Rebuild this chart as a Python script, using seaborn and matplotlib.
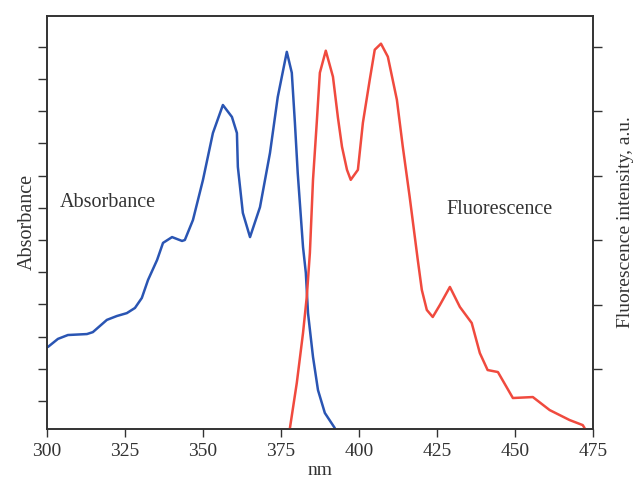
import numpy as np
import pandas as pd
import matplotlib.pyplot as plt
import seaborn as sns

# absorbance spectrum (left axis, arbitrary units)
abs_nm = [300.3, 303.5, 306.7, 312.8, 314.7, 319.2, 322.4, 325.6, 328.2, 330.4,
          332.4, 335.3, 337.2, 340.1, 343.3, 344.2, 346.8, 350.0, 353.2, 356.4,
          359.3, 360.9, 361.2, 362.8, 365.1, 368.3, 371.5, 374.0, 376.9, 378.5,
          379.5, 380.4, 382.1, 383.0, 383.7, 385.3, 386.9, 389.1, 392.3]
abs_val = [0.168, 0.193, 0.205, 0.208, 0.214, 0.252, 0.264, 0.273, 0.289, 0.320,
           0.376, 0.438, 0.491, 0.509, 0.497, 0.500, 0.562, 0.686, 0.832, 0.919,
           0.882, 0.832, 0.727, 0.584, 0.509, 0.602, 0.770, 0.944, 1.084, 1.019,
           0.863, 0.708, 0.478, 0.398, 0.273, 0.137, 0.034, -0.037, -0.084]

# fluorescence spectrum (right axis, a.u.)
fl_nm = [377.9, 380.1, 382.1, 383.3, 384.3, 385.3, 386.5, 387.5, 389.4, 391.7,
         393.3, 394.6, 396.2, 397.4, 399.7, 401.3, 403.5, 405.1, 407.1, 409.3,
         412.2, 414.1, 416.3, 418.9, 420.2, 421.8, 423.7, 426.0, 429.2, 432.4,
         436.2, 438.8, 441.3, 444.6, 449.4, 455.8, 461.2, 467.6, 471.8, 472.4]
fl_val = [0.084, 0.783, 1.559, 2.118, 2.801, 3.935, 4.820, 5.596, 5.938, 5.534,
          4.898, 4.447, 4.090, 3.935, 4.090, 4.820, 5.488, 5.953, 6.047, 5.845,
          5.177, 4.447, 3.671, 2.693, 2.227, 1.916, 1.807, 1.994, 2.273, 1.963,
          1.714, 1.248, 0.984, 0.953, 0.550, 0.565, 0.363, 0.208, 0.130, 0.084]

x_ticks = [300, 325, 350, 375, 400, 425, 450, 475]
abs_ticks = np.arange(0, 1.15, 0.1)
fl_ticks = [1, 2, 3, 4, 5, 6]

sns.set_style("ticks")
plt.rcParams['font.family'] = ['Liberation Serif', 'DejaVu Serif']
plt.rcParams['text.color'] = '#333333'
plt.rcParams['axes.labelcolor'] = '#333333'
plt.rcParams['xtick.color'] = '#333333'
plt.rcParams['ytick.color'] = '#333333'

df_abs = pd.DataFrame({'nm': abs_nm, 'val': abs_val})
df_fl = pd.DataFrame({'nm': fl_nm, 'val': fl_val})

fig = plt.figure(figsize=(6.38, 4.78), dpi=100)
ax = fig.add_axes([0.0737, 0.103, 0.8553, 0.864])
ax2 = ax.twinx()

sns.lineplot(data=df_abs, x='nm', y='val', ax=ax, color='#2a55b3', linewidth=1.8)
sns.lineplot(data=df_fl, x='nm', y='val', ax=ax2, color='#f04a3e', linewidth=1.8)

ax.set_xlim(300, 475)
ax.set_ylim(-0.086, 1.196)
ax2.set_ylim(0.073, 6.48)
ax.set_xticks(x_ticks)
ax.set_yticks(abs_ticks)
ax2.set_yticks(fl_ticks)
ax.set_yticklabels([])
ax2.set_yticklabels([])
ax.tick_params(axis='x', labelsize=14, length=6, width=1, pad=4)
ax.tick_params(axis='y', length=6.5, width=1, pad=0)
ax2.tick_params(axis='y', length=6.5, width=1, pad=0)

for a in (ax, ax2):
    for s in a.spines.values():
        s.set_color('#333333')
        s.set_linewidth(1.2)

ax.set_xlabel('nm', fontsize=14, labelpad=2)
ax.set_ylabel('Absorbance', fontsize=14.5, labelpad=1)
ax2.set_ylabel('Fluorescence intensity, a.u.', fontsize=14, labelpad=11)

ax.text(0.024, 0.547, 'Absorbance', transform=ax.transAxes, fontsize=14.5,
        ha='left', va='center')
ax.text(0.830, 0.532, 'Fluorescence', transform=ax.transAxes, fontsize=14.5,
        ha='center', va='center')

fig.savefig('out.png', dpi=100)
